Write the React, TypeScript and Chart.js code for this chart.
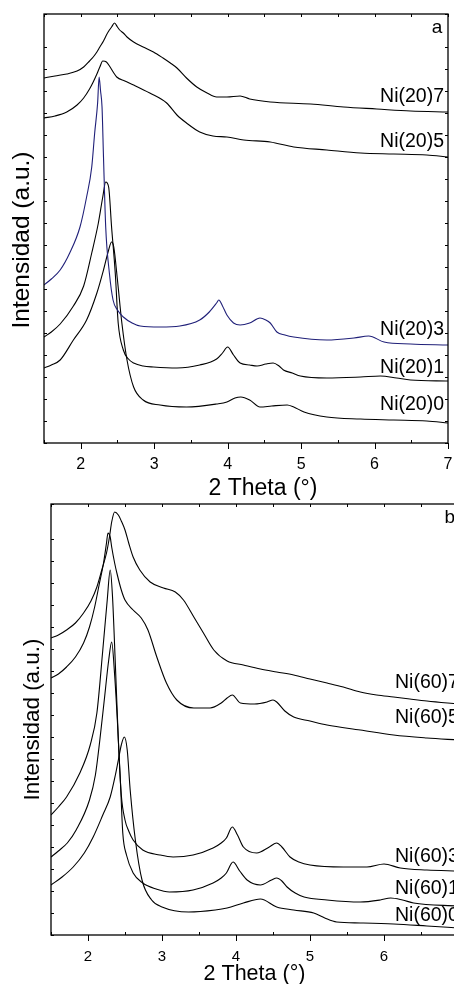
import React, { useEffect, useRef } from 'react';
import { Chart, registerables } from 'chart.js';

Chart.register(...registerables);

const FONT = "'Liberation Sans', Arial, Helvetica, sans-serif";

// ---------- Panel a : Ni(20)x ----------
const a7X = [1.50, 1.65, 1.81, 1.95, 2.04, 2.12, 2.17, 2.22, 2.26, 2.31, 2.35, 2.39, 2.42, 2.46, 2.50, 2.53, 2.58, 2.63, 2.72, 2.85, 2.99, 3.12, 3.22, 3.31, 3.44, 3.58, 3.72, 3.85, 3.99, 4.17, 4.30, 4.58, 5.13, 5.58, 6.03, 6.49, 7.0];
const a7Y = [365, 367, 369, 372, 376, 382, 386, 391, 396, 402, 408, 413, 416, 420, 416, 413, 410, 406, 401, 396, 391, 385, 380, 375, 365, 356, 350, 346, 346, 347, 344, 341, 339, 336, 334, 332, 331];

const a5X = [1.50, 1.65, 1.81, 1.95, 2.04, 2.12, 2.17, 2.22, 2.26, 2.30, 2.35, 2.40, 2.45, 2.49, 2.60, 2.72, 2.94, 3.17, 3.31, 3.44, 3.62, 3.80, 3.99, 4.22, 4.58, 4.90, 5.35, 5.81, 6.26, 6.71, 7.0];
const a5Y = [325, 327, 331, 338, 345, 354, 361, 369, 376, 382, 381, 376, 370, 366, 362, 358, 350, 340, 328, 320, 311, 307, 306, 303, 301, 296, 293, 290, 289, 288, 286];

const a3X = [1.50, 1.60, 1.72, 1.85, 1.99, 2.08, 2.15, 2.19, 2.23, 2.25, 2.27, 2.29, 2.31, 2.34, 2.39, 2.44, 2.50, 2.58, 2.70, 2.81, 3.08, 3.35, 3.62, 3.75, 3.85, 3.88, 3.93, 3.99, 4.08, 4.17, 4.30, 4.44, 4.52, 4.58, 4.67, 4.78, 4.90, 5.35, 5.72, 5.92, 6.13, 6.49, 7.0];
const a3Y = [158, 164, 173, 190, 216, 246, 276, 310, 340, 366, 352, 336, 286, 216, 170, 143, 133, 126, 120, 117, 116, 117, 123, 131, 140, 143, 137, 128, 120, 118, 120, 125, 123, 120, 111, 108, 106, 103, 105, 107, 101, 99, 98];

const a1X = [1.50, 1.60, 1.72, 1.90, 2.04, 2.15, 2.24, 2.30, 2.34, 2.38, 2.42, 2.47, 2.51, 2.58, 2.65, 2.72, 2.85, 2.99, 3.31, 3.62, 3.85, 3.93, 4.00, 4.08, 4.17, 4.30, 4.40, 4.52, 4.62, 4.70, 4.76, 4.88, 4.99, 5.35, 5.81, 6.08, 6.30, 6.49, 7.0];
const a1Y = [106, 111, 119, 137, 157, 190, 220, 246, 261, 256, 216, 170, 120, 93, 84, 80, 77, 76, 75, 78, 84, 90, 96, 88, 80, 78, 77, 79, 80, 77, 73, 70, 67, 65, 66, 67, 65, 63, 62];

const a0X = [1.50, 1.60, 1.72, 1.90, 2.08, 2.22, 2.31, 2.38, 2.42, 2.45, 2.50, 2.56, 2.63, 2.72, 2.85, 3.08, 3.44, 3.85, 3.99, 4.10, 4.18, 4.30, 4.44, 4.60, 4.81, 4.90, 5.04, 5.35, 5.81, 6.26, 6.71, 7.0];
const a0Y = [75, 78, 83, 103, 123, 150, 173, 193, 201, 196, 163, 120, 83, 56, 43, 38, 36, 39, 41, 45, 46, 43, 36, 37, 38, 36, 31, 26, 24, 23, 22, 20];

const aNames = ['Ni(20)7', 'Ni(20)5', 'Ni(20)3', 'Ni(20)1', 'Ni(20)0'];
const aColors = ['#000000', '#000000', '#1f1f78', '#000000', '#000000'];
const aLabelY = [346, 301, 113, 75, 38];

// ---------- Panel b : Ni(60)x ----------
const b7X = [1.50, 1.60, 1.71, 1.83, 1.94, 2.04, 2.12, 2.19, 2.25, 2.29, 2.32, 2.36, 2.41, 2.45, 2.50, 2.55, 2.61, 2.70, 2.84, 3.02, 3.18, 3.29, 3.43, 3.56, 3.70, 3.88, 4.10, 4.33, 4.55, 4.78, 5.00, 5.23, 5.45, 5.68, 5.90, 6.13, 6.35, 6.58, 7.00];
const b7Y = [297, 300, 305, 312, 322, 334, 348, 366, 382, 398, 413, 423, 420, 414, 405, 392, 378, 365, 353, 347, 343, 335, 318, 302, 285, 274, 270, 266, 263, 260, 256, 252, 248, 243, 240, 238, 236, 234, 231];

const b5X = [1.50, 1.60, 1.71, 1.83, 1.94, 2.02, 2.09, 2.15, 2.21, 2.25, 2.27, 2.30, 2.32, 2.36, 2.39, 2.45, 2.50, 2.61, 2.72, 2.81, 2.93, 3.06, 3.20, 3.43, 3.65, 3.80, 3.88, 3.95, 4.06, 4.25, 4.42, 4.50, 4.55, 4.66, 4.78, 5.00, 5.23, 5.68, 6.13, 6.58, 7.00];
const b5Y = [257, 261, 268, 278, 292, 308, 328, 350, 372, 392, 402, 398, 388, 372, 362, 345, 335, 325, 317, 305, 278, 252, 235, 227, 227, 232, 237, 240, 232, 231, 233, 235, 233, 224, 218, 214, 210, 205, 200, 197, 195];

const b3X = [1.50, 1.60, 1.71, 1.89, 2.03, 2.12, 2.20, 2.26, 2.30, 2.33, 2.37, 2.41, 2.45, 2.50, 2.55, 2.61, 2.74, 2.97, 3.15, 3.42, 3.69, 3.80, 3.87, 3.95, 4.02, 4.10, 4.28, 4.45, 4.55, 4.62, 4.73, 4.85, 5.00, 5.45, 5.77, 6.00, 6.22, 6.58, 7.00];
const b3Y = [120, 128, 138, 162, 190, 222, 285, 335, 365, 340, 270, 195, 140, 115, 104, 95, 85, 80, 78, 80, 87, 92, 97, 108, 100, 88, 82, 88, 92, 88, 78, 73, 70, 68, 68, 71, 67, 65, 64];

const b1X = [1.50, 1.60, 1.72, 1.84, 2.02, 2.10, 2.16, 2.22, 2.28, 2.32, 2.36, 2.40, 2.44, 2.47, 2.52, 2.61, 2.74, 2.92, 3.10, 3.42, 3.69, 3.80, 3.87, 3.96, 4.05, 4.15, 4.33, 4.48, 4.55, 4.62, 4.69, 4.80, 4.92, 5.23, 5.68, 5.95, 6.09, 6.25, 6.40, 7.00];
const b1Y = [78, 84, 92, 105, 135, 160, 195, 235, 275, 293, 260, 210, 150, 102, 80, 62, 52, 46, 43, 45, 52, 57, 62, 73, 64, 55, 50, 55, 57, 54, 48, 42, 38, 35, 33, 35, 37, 35, 32, 29];

const b0X = [1.50, 1.65, 1.80, 1.95, 2.07, 2.20, 2.30, 2.37, 2.41, 2.45, 2.49, 2.53, 2.57, 2.64, 2.73, 2.86, 3.00, 3.36, 3.72, 3.88, 4.10, 4.33, 4.55, 4.78, 5.05, 5.20, 5.36, 5.68, 6.13, 6.58, 7.00];
const b0Y = [50, 58, 68, 82, 98, 120, 138, 160, 175, 190, 198, 185, 145, 95, 55, 35, 28, 23, 25, 27, 32, 36, 28, 25, 22, 17, 13, 12, 11, 9, 7];

const bNames = ['Ni(60)7', 'Ni(60)5', 'Ni(60)3', 'Ni(60)1', 'Ni(60)0'];
const bLabelY = [252, 217, 78, 46, 19];

const X_MIN = 1.5;
const X_MAX = 7;
const X_STEP = 0.5;

const isInt = (v: number) => Math.abs(v - Math.round(v)) < 1e-6;

type TextItem = {
  text: string;
  size: number;
  align: CanvasTextAlign;
  x?: number; y?: number; // data coords
  px?: number; py?: number; // pixel coords
  rot?: number;
};

function makeDecor(texts: TextItem[]) {
  return {
    id: 'decor',
    afterDatasetsDraw(chart: any) {
      const { ctx, chartArea } = chart;
      const { left, right, top, bottom } = chartArea;
      const xs = chart.scales.x;
      const ys = chart.scales.y;
      ctx.save();
      ctx.strokeStyle = '#000';
      ctx.lineWidth = 1.3;
      ctx.strokeRect(left, top, right - left, bottom - top);
      ctx.lineWidth = 1;
      ctx.beginPath();
      xs.ticks.forEach((t: any) => {
        const px = Math.round(xs.getPixelForValue(t.value)) + 0.5;
        if (isInt(t.value)) {
          ctx.moveTo(px, bottom);
          ctx.lineTo(px, bottom + 6);
        } else {
          ctx.moveTo(px, bottom);
          ctx.lineTo(px, bottom - 3);
        }
        ctx.moveTo(px, top);
        ctx.lineTo(px, top + 3);
      });
      ys.ticks.forEach((t: any) => {
        const py = Math.round(ys.getPixelForValue(t.value)) + 0.5;
        ctx.moveTo(left, py);
        ctx.lineTo(left + 3, py);
        ctx.moveTo(right, py);
        ctx.lineTo(right - 3, py);
      });
      ctx.stroke();
      ctx.fillStyle = '#000';
      ctx.textBaseline = 'middle';
      texts.forEach((t) => {
        ctx.font = `${t.size}px ${FONT}`;
        ctx.textAlign = t.align;
        const px = t.px !== undefined ? t.px : xs.getPixelForValue(t.x);
        const py = t.py !== undefined ? t.py : ys.getPixelForValue(t.y);
        ctx.save();
        ctx.translate(px, py);
        if (t.rot) ctx.rotate(t.rot);
        ctx.fillText(t.text, 0, 0);
        ctx.restore();
      });
      ctx.restore();
    },
  };
}

function buildDatasets(xs: number[][], ys: number[][], names: string[], colors: string[]) {
  return xs.map((xArr, i) => ({
    label: names[i],
    data: xArr.map((xv, j) => ({ x: xv, y: ys[i][j] })),
    borderColor: colors[i],
    borderWidth: 1.1,
    pointRadius: 0,
    fill: false,
    cubicInterpolationMode: 'monotone' as const,
  }));
}

function fitX(h: number) {
  return (s: any) => {
    s.height = h;
    s.paddingLeft = 0;
    s.paddingRight = 0;
  };
}

function fitY(w: number) {
  return (s: any) => {
    s.width = w;
    s.paddingTop = 0;
    s.paddingBottom = 0;
  };
}

export default function App() {
  const topRef = useRef<HTMLCanvasElement>(null);
  const botRef = useRef<HTMLCanvasElement>(null);

  useEffect(() => {
    Chart.defaults.font.family = FONT;
    Chart.defaults.color = '#000';

    const textsA: TextItem[] = aNames.map((n, i) => ({ text: n, size: 19.5, align: 'right' as CanvasTextAlign, x: 6.946, y: aLabelY[i] }));
    textsA.push({ text: 'a', size: 19, align: 'center', x: 6.85, y: 415 });
    textsA.push({ text: '2 Theta (°)', size: 23, align: 'center', px: 263, py: 489 });
    textsA.push({ text: 'Intensidad (a.u.)', size: 24.5, align: 'center', px: 22, py: 240, rot: -Math.PI / 2 });

    const textsB: TextItem[] = bNames.map((n, i) => ({ text: n, size: 19.5, align: 'left' as CanvasTextAlign, x: 6.149, y: bLabelY[i] }));
    textsB.push({ text: 'b', size: 19, align: 'center', x: 6.89, y: 417 });

    const chartA = new Chart(topRef.current as HTMLCanvasElement, {
      type: 'line',
      data: {
        datasets: buildDatasets([a7X, a5X, a3X, a1X, a0X], [a7Y, a5Y, a3Y, a1Y, a0Y], aNames, aColors) as any,
      },
      options: {
        responsive: false,
        animation: false,
        devicePixelRatio: 1,
        layout: { padding: { top: 14, right: 6, left: 0, bottom: 0 } },
        plugins: { legend: { display: false }, tooltip: { enabled: false } },
        scales: {
          x: {
            type: 'linear',
            min: X_MIN,
            max: X_MAX,
            afterFit: fitX(67),
            grid: { display: false, drawTicks: false },
            border: { display: false },
            ticks: {
              stepSize: X_STEP,
              autoSkip: false,
              maxRotation: 0,
              padding: 12,
              color: '#000',
              font: { size: 16, family: FONT },
              callback: (v: any) => (isInt(Number(v)) ? String(Math.round(Number(v))) : ''),
            },
            title: { display: false },
          },
          y: {
            type: 'linear',
            min: 0,
            max: 429,
            afterFit: fitY(44),
            grid: { display: false, drawTicks: false },
            border: { display: false },
            ticks: { display: false, stepSize: 22 },
            title: { display: false },
          },
        },
      } as any,
      plugins: [makeDecor(textsA)],
    });

    const chartB = new Chart(botRef.current as HTMLCanvasElement, {
      type: 'line',
      data: {
        datasets: buildDatasets([b7X, b5X, b3X, b1X, b0X], [b7Y, b5Y, b3Y, b1Y, b0Y], bNames, ['#000', '#000', '#000', '#000', '#000']) as any,
      },
      options: {
        responsive: false,
        animation: false,
        devicePixelRatio: 1,
        layout: { padding: { top: 14, right: 6, left: 0, bottom: 0 } },
        plugins: { legend: { display: false }, tooltip: { enabled: false } },
        scales: {
          x: {
            type: 'linear',
            min: X_MIN,
            max: X_MAX,
            afterFit: fitX(59),
            grid: { display: false, drawTicks: false },
            border: { display: false },
            ticks: {
              stepSize: X_STEP,
              autoSkip: false,
              maxRotation: 0,
              padding: 13,
              color: '#000',
              font: { size: 15, family: FONT },
              callback: (v: any) => (isInt(Number(v)) ? String(Math.round(Number(v))) : ''),
            },
            title: {
              display: true,
              text: '2 Theta (°)',
              color: '#000',
              font: { size: 21.5, family: FONT },
              padding: { top: 0, bottom: 7 },
            },
          },
          y: {
            type: 'linear',
            min: 0,
            max: 431,
            afterFit: fitY(51),
            grid: { display: false, drawTicks: false },
            border: { display: false },
            ticks: { display: false, stepSize: 22 },
            title: {
              display: true,
              text: 'Intensidad (a.u.)',
              color: '#000',
              font: { size: 22.4, family: FONT },
              padding: { top: 19, bottom: 0 },
            },
          },
        },
      } as any,
      plugins: [makeDecor(textsB)],
    });

    return () => {
      chartA.destroy();
      chartB.destroy();
    };
  }, []);

  return (
    <div style={{ position: 'absolute', left: 0, top: 0, width: 454, height: 984, overflow: 'hidden', background: '#fff' }}>
      <canvas ref={topRef} width={454} height={510} style={{ position: 'absolute', left: 0, top: 0, width: 454, height: 510 }} />
      <canvas ref={botRef} width={464} height={504} style={{ position: 'absolute', left: 0, top: 490, width: 464, height: 504 }} />
    </div>
  );
}
